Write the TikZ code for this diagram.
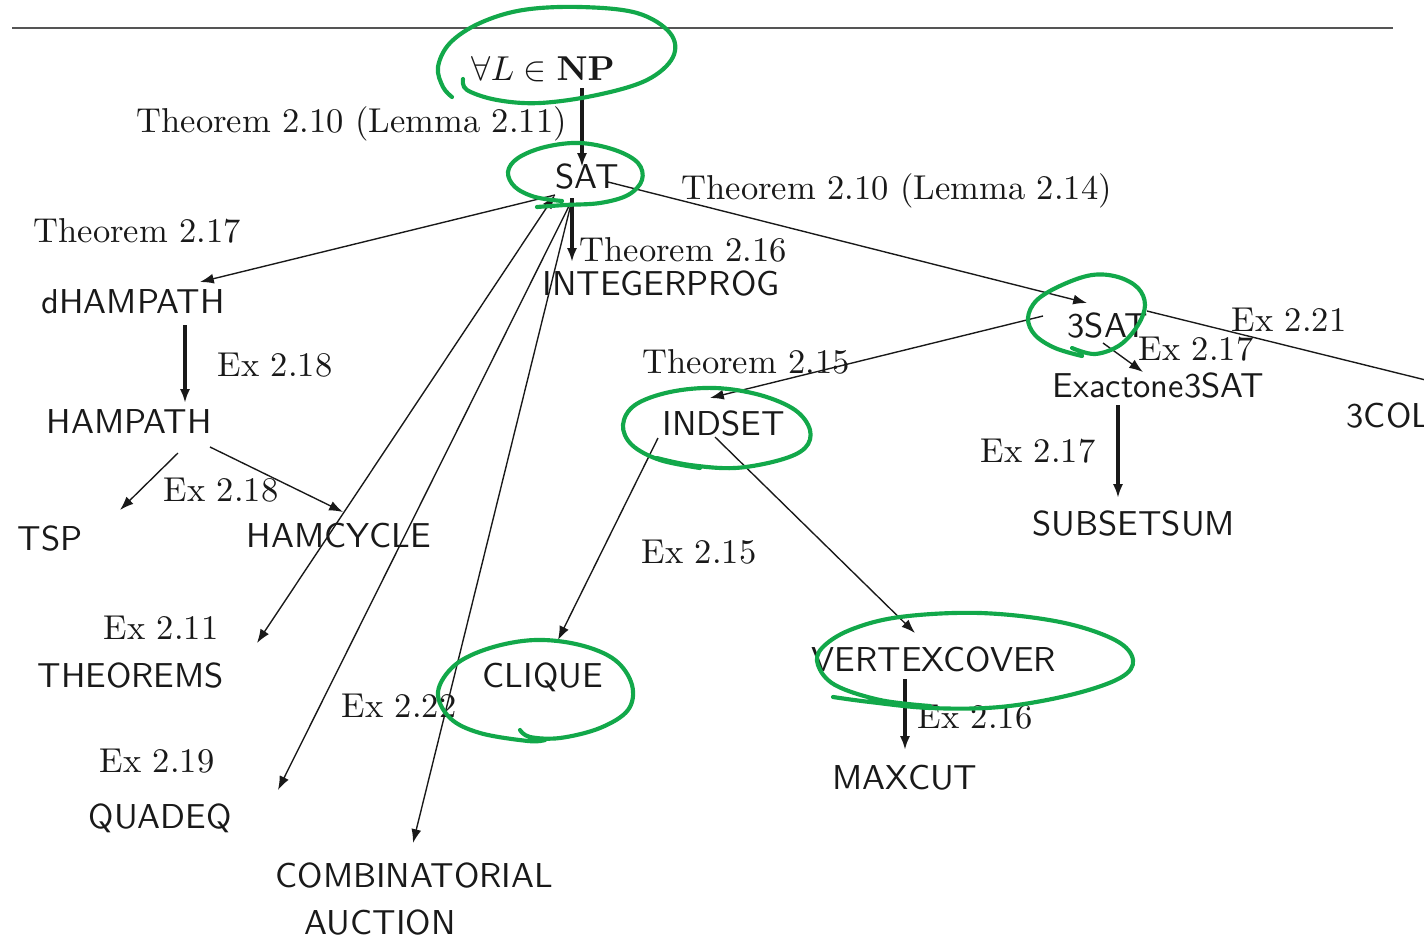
\documentclass[tikz,border=0pt]{standalone}
\usetikzlibrary{arrows.meta}
\definecolor{ink}{RGB}{25,25,25}
\definecolor{pen}{RGB}{18,168,74}
\definecolor{rulegrey}{RGB}{85,85,85}
\begin{document}
\begin{tikzpicture}[x=0.2897pt,y=-0.2897pt,
  prob/.style={font=\sffamily, inner sep=0pt, anchor=base west, text=ink},
  note/.style={font=\rmfamily, inner sep=0pt, anchor=base west, text=ink},
  link/.style={draw=ink, line width=0.4pt, -{Latex[length=4pt,width=2.9pt]}},
  trunk/.style={draw=ink, line width=0.9pt, -{Latex[length=4pt,width=2.9pt]}},
  loop/.style={draw=pen, line width=1.2pt, line cap=round, line join=round},
]
\useasboundingbox (0,0) rectangle (1424,936);

% page rule
\draw[rulegrey, line width=0.55pt] (12,28) -- (1393,28);

% problems
\node[prob] (np) at (471,80) {$\forall L \in \mathbf{NP}$};
\node[prob] (sat) at (555,188) {SAT};
\node[prob] (intprog) at (542,295) {INTEGERPROG};
\node[prob] (dham) at (41,313) {dHAMPATH};
\node[prob] (hampath) at (46,433) {HAMPATH};
\node[prob] (tsp) at (17,550) {TSP};
\node[prob] (hamcycle) at (246,547) {HAMCYCLE};
\node[prob] (theorems) at (37,687) {THEOREMS};
\node[prob] (quadeq) at (88,828) {QUADEQ};
\node[prob, anchor=north west, align=left, font=\sffamily\fontsize{10}{13.6}\selectfont]
  (comb) at (275,862) {COMBINATORIAL\\\hspace*{8.4pt}AUCTION};
\node[prob] (3sat) at (1067,337) {3SAT};
\node[prob] (exact) at (1052,397) {Exactone3SAT};
\node[prob] (col3) at (1346,427) {3COL};
\node[prob] (subset) at (1032,535) {SUBSETSUM};
\node[prob] (indset) at (662,435) {INDSET};
\node[prob] (clique) at (482,687) {CLIQUE};
\node[prob] (vcover) at (811,671) {VERTEXCOVER};
\node[prob] (maxcut) at (832,789) {MAXCUT};

% reduction labels
\node[note] (l211) at (136,132) {Theorem 2.10 (Lemma 2.11)};
\node[note] (l214) at (681,199) {Theorem 2.10 (Lemma 2.14)};
\node[note] (t217) at (33,242) {Theorem 2.17};
\node[note] (t216) at (579,261) {Theorem 2.16};
\node[note] (e218a) at (217,376) {Ex 2.18};
\node[note] (e218b) at (163,501) {Ex 2.18};
\node[note] (t215) at (642,373) {Theorem 2.15};
\node[note] (e221) at (1231,331) {Ex 2.21};
\node[note] (e217a) at (1138,360) {Ex 2.17};
\node[note] (e217b) at (980,462) {Ex 2.17};
\node[note] (e215) at (641,563) {Ex 2.15};
\node[note] (e211) at (103,639) {Ex 2.11};
\node[note] (e222) at (341,717) {Ex 2.22};
\node[note] (e219) at (99,772) {Ex 2.19};
\node[note] (e216) at (917,728) {Ex 2.16};

\coordinate (colend) at (1470,391);

% reductions
\draw[trunk] ([shift={(111,8)}]np.base west) -- ([shift={(27,-21)}]sat.base west);
\draw[trunk] ([shift={(17,10)}]sat.base west) -- ([shift={(30,-33)}]intprog.base west);
\draw[link] ([shift={(0,7)}]sat.base west) -- ([shift={(159,-31)}]dham.base west);
\draw[link, {Latex[length=4pt,width=2.9pt]}-{Latex[length=4pt,width=2.9pt]}]
  ([shift={(0,7)}]sat.base west) -- ([shift={(220,-44)}]theorems.base west);
\draw[link] ([shift={(17,12)}]sat.base west) -- ([shift={(190,-38)}]quadeq.base west);
\draw[link] ([shift={(17,12)}]sat.base west) -- ([shift={(138,-19)}]comb.north west);
\draw[link] ([shift={(53,-6)}]sat.base west) -- ([shift={(20,-34)}]3sat.base west);
\draw[trunk] ([shift={(144,12)}]dham.base west) -- ([shift={(139,-30)}]hampath.base west);
\draw[link] ([shift={(132,20)}]hampath.base west) -- ([shift={(103,-40)}]tsp.base west);
\draw[link] ([shift={(164,14)}]hampath.base west) -- ([shift={(97,-35)}]hamcycle.base west);
\draw[link] ([shift={(-24,-21)}]3sat.base west) -- ([shift={(48,-37)}]indset.base west);
\draw[link] ([shift={(36,6)}]3sat.base west) -- ([shift={(91,-25)}]exact.base west);
\draw[link] ([shift={(80,-26)}]3sat.base west) -- (colend);
\draw[trunk] ([shift={(66,8)}]exact.base west) -- ([shift={(86,-37)}]subset.base west);
\draw[link] ([shift={(-4,3)}]indset.base west) -- ([shift={(76,-47)}]clique.base west);
\draw[link] ([shift={(53,2)}]indset.base west) -- ([shift={(104,-38)}]vcover.base west);
\draw[trunk] ([shift={(94,8)}]vcover.base west) -- ([shift={(73,-39)}]maxcut.base west);

% hand-drawn circles
\draw[loop] plot[smooth, tension=0.6] coordinates {(463,79) (467,90) (497,100) (540,103) (597,95) (647,80) (673,57) (670,33) (637,13) (580,7) (523,10) (480,23) (450,43) (438,67) (443,87) (452,97)};
\draw[loop] plot[smooth, tension=0.6] coordinates {(537,207) (565,205) (600,203) (628,195) (642,180) (638,163) (615,150) (580,143) (545,147) (518,158) (508,172) (515,187) (535,197) (562,201)};
\draw[loop] plot[smooth, tension=0.6] coordinates {(1072,348) (1095,354) (1120,345) (1138,325) (1145,305) (1138,288) (1118,277) (1092,275) (1062,285) (1037,300) (1028,318) (1035,335) (1055,348) (1082,356)};
\draw[loop] plot[smooth, tension=0.6] coordinates {(657,458) (690,465) (735,468) (780,460) (805,448) (810,430) (795,410) (760,395) (715,388) (670,392) (635,405) (623,425) (632,445) (660,460) (700,468)};
\draw[loop] plot[smooth, tension=0.6] coordinates {(520,730) (530,737) (560,738) (600,728) (628,710) (632,685) (615,660) (580,645) (535,640) (490,648) (455,665) (438,692) (450,718) (480,733) (528,741) (545,740)};
\draw[loop] plot[smooth, tension=0.6] coordinates {(833,697) (870,702) (930,708) (1000,707) (1070,695) (1120,678) (1133,660) (1115,640) (1060,622) (980,613) (900,617) (850,630) (822,648) (818,665) (835,685) (880,700) (930,706)};
\end{tikzpicture}
\end{document}
